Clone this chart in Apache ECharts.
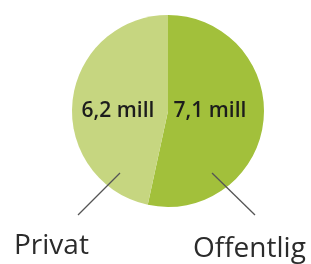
<!DOCTYPE html>
<html>
<head>
<meta charset="utf-8">
<script src="https://cdn.jsdelivr.net/npm/echarts@6/dist/echarts.min.js"></script>
<style>
html,body{margin:0;padding:0;background:#fff;}
#c{width:311px;height:264px;}
</style>
</head>
<body>
<div id="c"></div>
<script>
// Data
const categories = ['Offentlig', 'Privat'];
const values = [7.1, 6.2];
const valueLabels = ['7,1 mill', '6,2 mill'];

// Styles
const colors = ['#a2c03b', '#c6d680'];
const CX = 168, CY = 111, R = 96;
// label line offsets from centre (start, end) and label anchor per category
const lineOffsets = [[[44, 62], [87, 104]], [[-48, 62], [-90, 104]]];
const labelAnchors = [[193, 249, 'left'], [14, 246, 'left']];

const chart = echarts.init(document.getElementById('c'), null, {renderer: 'canvas'});
const data = categories.map((c, i) => ({name: c, value: values[i], itemStyle: {color: colors[i]}}));

chart.setOption({
  animation: false,
  series: [
    {
      type: 'pie',
      z: 2,
      center: [CX, CY],
      radius: R,
      startAngle: 90,
      clockwise: true,
      silent: true,
      itemStyle: {borderWidth: 0},
      label: {
        show: true,
        position: 'inner',
        formatter: p => valueLabels[p.dataIndex],
        fontFamily: 'Open Sans',
        fontWeight: 600,
        fontSize: 21,
        color: '#1c1c1c'
      },
      labelLayout: function (p) {
        const off = [[42, 0], [-50, 0]][p.dataIndex];
        return {x: CX + off[0], y: CY + off[1], align: 'center', verticalAlign: 'middle'};
      },
      labelLine: {show: false},
      data: data
    },
    {
      type: 'pie',
      z: 5,
      center: [CX, CY],
      radius: R,
      startAngle: 90,
      clockwise: true,
      silent: true,
      avoidLabelOverlap: false,
      itemStyle: {color: 'rgba(0,0,0,0)', borderWidth: 0},
      label: {
        show: true,
        position: 'outside',
        alignTo: 'none',
        overflow: 'none',
        bleedMargin: 0,
        formatter: '{b}',
        fontFamily: 'Open Sans',
        fontSize: 28,
        color: '#2b2b2b'
      },
      labelLine: {show: true, length: 5, length2: 5, lineStyle: {color: '#555', width: 1.3}},
      labelLayout: function (p) {
        const i = p.dataIndex;
        const lo = lineOffsets[i];
        const a = labelAnchors[i];
        return {
          x: a[0], y: a[1], align: a[2], verticalAlign: 'middle',
          labelLinePoints: [[CX + lo[0][0], CY + lo[0][1]], [CX + lo[1][0], CY + lo[1][1]], [CX + lo[1][0], CY + lo[1][1]]]
        };
      },
      data: categories.map((c, i) => ({name: c, value: values[i]}))
    }
  ]
});
</script>
</body>
</html>
